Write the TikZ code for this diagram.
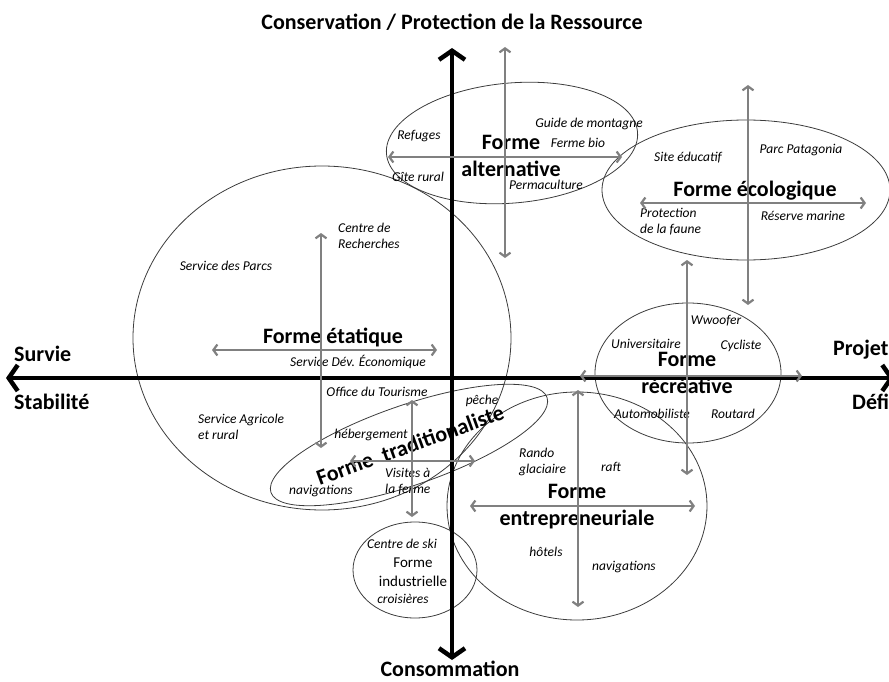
\documentclass[tikz,border=0pt]{standalone}
\usepackage{fontspec}
\setmainfont{Carlito}
\usetikzlibrary{arrows.meta}

\definecolor{grisfleche}{RGB}{128,128,128}
\definecolor{grisforme}{RGB}{60,60,60}

\tikzset{
	axe/.style={line width=4.5pt, {Straight Barb[length=9pt,width=26pt]}-{Straight Barb[length=9pt,width=26pt]}},
	axe lab/.style={inner sep=0pt, font=\fontsize{22}{24}\selectfont\bfseries},
	fleche/.style={grisfleche, line width=2.2pt, {Straight Barb[length=4pt,width=11pt]}-{Straight Barb[length=4pt,width=11pt]}},
	contour/.style={grisforme, line width=0.8pt},
	forme/.style={inner sep=0pt, align=center, font=\fontsize{22}{27}\selectfont\bfseries},
	lab/.style={inner sep=0pt, align=left, font=\fontsize{13.5}{16}\selectfont\itshape}
}

\begin{document}
\begin{tikzpicture}[x=1pt,y=1pt]
	\useasboundingbox (0,0) rectangle (889,-682);
	% les formes
	\draw[contour, rotate around={5:(512,-143)}] (512,-143) ellipse [x radius=126, y radius=60];
	\draw[contour] (746,-190) ellipse [x radius=144, y radius=70];
	\draw[contour] (322,-338) ellipse [x radius=189, y radius=172];
	\draw[contour] (688,-373) ellipse [x radius=93, y radius=70];
	\draw[contour, rotate around={19:(409,-445)}] (409,-445) ellipse [x radius=146, y radius=40];
	\draw[contour] (577,-506) ellipse [x radius=130, y radius=114];
	\draw[contour] (415,-570) ellipse [x radius=62, y radius=48];
	% textes
	\node[forme] (F_alt) at (511,-156) {Forme\\alternative};
	\node[lab] (refuges) at (419,-136) {Refuges};
	\node[lab] (guide) at (589,-124) {Guide de montagne};
	\node[lab] (fermebio) at (578,-143) {Ferme bio};
	\node[lab] (gite) at (418,-177) {Gîte rural};
	\node[lab] (perma) at (546,-185) {Permaculture};
	\node[forme] (F_eco) at (755,-191) {Forme écologique};
	\node[lab] (site) at (688,-158) {Site éducatif};
	\node[lab] (parc) at (801,-150) {Parc Patagonia};
	\node[lab, anchor=west] (faune) at (640,-222) {Protection\\de la faune};
	\node[lab] (reserve) at (803,-216) {Réserve marine};
	\node[forme] (F_eta) at (333,-337) {Forme étatique};
	\node[lab, anchor=west] (recherche) at (338,-236) {Centre de\\Recherches};
	\node[lab] (parcs) at (226,-266) {Service des Parcs};
	\node[lab] (deveco) at (358,-362) {Service Dév. Économique};
	\node[lab] (office) at (377,-392) {Office du Tourisme};
	\node[lab, anchor=west] (agricole) at (198,-427) {Service Agricole\\et rural};
	\node[forme] (F_rec) at (687,-373) {Forme\\récréative};
	\node[lab] (wwoof) at (716,-321) {Wwoofer};
	\node[lab] (univ) at (646,-344) {Universitaire};
	\node[lab] (cycl) at (741,-346) {Cycliste};
	\node[lab] (auto) at (652,-414) {Automobiliste};
	\node[lab] (routard) at (733,-414) {Routard};
	\node[forme, rotate=20] (F_tra) at (410,-445) {Forme\hspace{6pt} traditionaliste};
	\node[lab] (heberg) at (371,-435) {hébergement};
	\node[lab] (peche) at (482,-401) {pêche};
	\node[lab, anchor=west] (visites) at (385,-482) {Visites à\\la ferme};
	\node[lab] (navig1) at (321,-491) {navigations};
	\node[forme] (F_ent) at (577,-507) {Forme\\entrepreneuriale};
	\node[lab, anchor=west] (rando) at (519,-462) {Rando\\glaciaire};
	\node[lab] (raft) at (611,-467) {raft};
	\node[lab] (hotels) at (546,-552) {hôtels};
	\node[lab] (navig2) at (624,-567) {navigations};
	\node[inner sep=0pt, align=center, font=\fontsize{15}{19}\selectfont] (F_ind) at (413,-572) {Forme\\industrielle};
	\node[lab] (ski) at (402,-544) {Centre de ski};
	\node[lab] (croisieres) at (403,-599) {croisières};
	% les axes
	\node[axe lab] (conserv) at (452,-22) {Conservation / Protection de la Ressource};
	\node[axe lab] (consom) at (450,-669) {Consommation};
	\node[axe lab, anchor=west] (survie) at (14,-354) {Survie};
	\node[axe lab, anchor=west] (stab) at (14,-402) {Stabilité};
	\node[axe lab, anchor=west] (projet) at (833,-350) {Projet};
	\node[axe lab, anchor=west] (defi) at (852,-402) {Défi};
	\coordinate (ax_h) at (452,-48);
	\coordinate (ax_b) at (452,-660);
	\coordinate (ax_g) at (6,-378);
	\coordinate (ax_d) at (894,-378);
	\draw[axe] (ax_g) -- (ax_d);
	\draw[axe] (ax_h) -- (ax_b);
	% les fleches grises
	\coordinate (alt_g) at (388,-157);
	\coordinate (alt_d) at (622,-157);
	\coordinate (alt_h) at (505,-47);
	\coordinate (alt_b) at (505,-258);
	\draw[fleche] (alt_g) -- (alt_d);
	\draw[fleche] (alt_h) -- (alt_b);
	\coordinate (eco_g) at (640,-203);
	\coordinate (eco_d) at (866,-203);
	\coordinate (eco_h) at (748,-85);
	\coordinate (eco_b) at (748,-305);
	\draw[fleche] (eco_g) -- (eco_d);
	\draw[fleche] (eco_h) -- (eco_b);
	\coordinate (eta_g) at (212,-350);
	\coordinate (eta_d) at (437,-350);
	\coordinate (eta_h) at (321,-233);
	\coordinate (eta_b) at (321,-448);
	\draw[fleche] (eta_g) -- (eta_d);
	\draw[fleche] (eta_h) -- (eta_b);
	\coordinate (rec_g) at (580,-376);
	\coordinate (rec_d) at (802,-376);
	\coordinate (rec_h) at (687,-260);
	\coordinate (rec_b) at (687,-475);
	\draw[fleche] (rec_g) -- (rec_d);
	\draw[fleche] (rec_h) -- (rec_b);
	\coordinate (tra_g) at (350,-461);
	\coordinate (tra_d) at (475,-461);
	\coordinate (tra_h) at (412,-400);
	\coordinate (tra_b) at (412,-517);
	\draw[fleche] (tra_g) -- (tra_d);
	\draw[fleche] (tra_h) -- (tra_b);
	\coordinate (ent_g) at (470,-506);
	\coordinate (ent_d) at (695,-506);
	\coordinate (ent_h) at (578,-390);
	\coordinate (ent_b) at (578,-607);
	\draw[fleche] (ent_g) -- (ent_d);
	\draw[fleche] (ent_h) -- (ent_b);
\end{tikzpicture}
\end{document}
